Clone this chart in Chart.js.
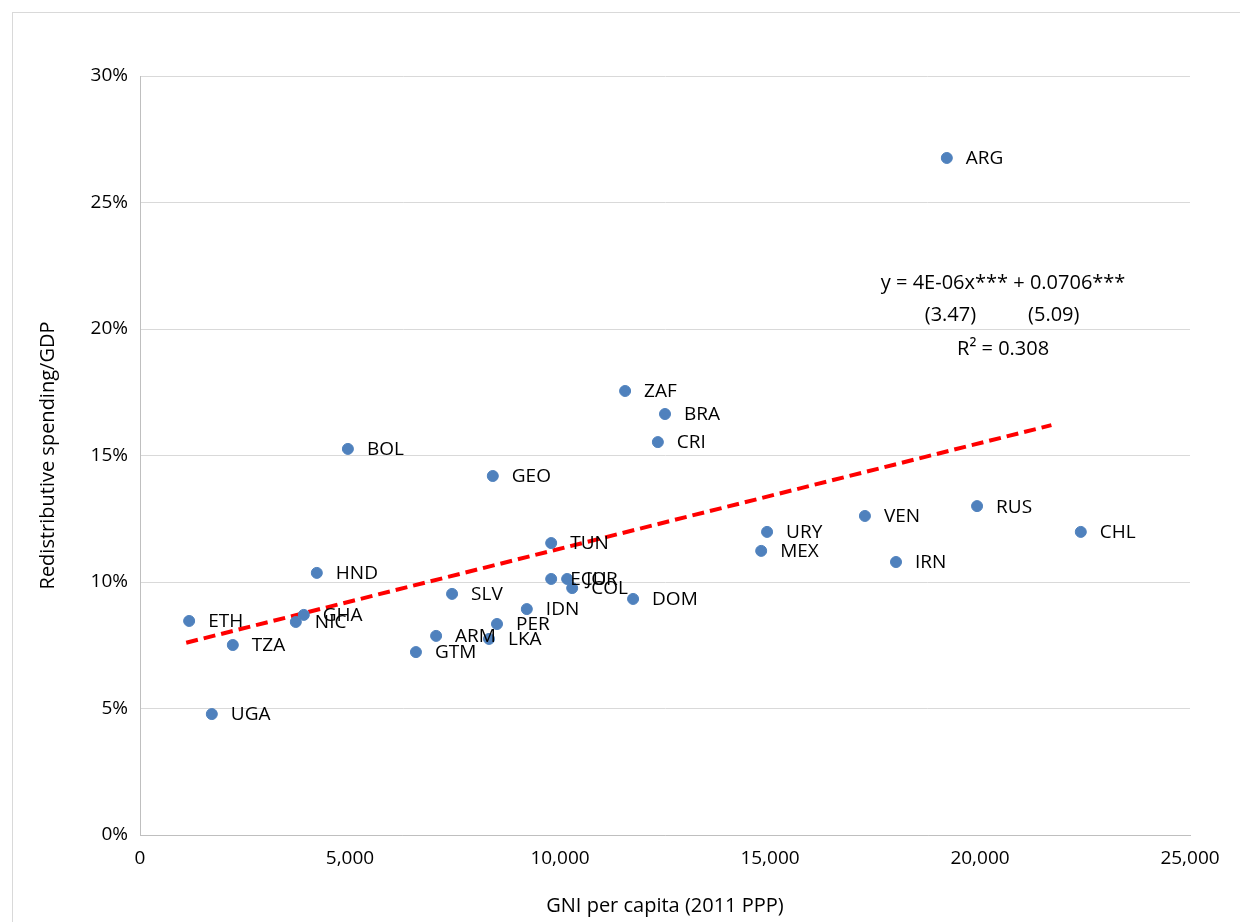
<!DOCTYPE html>
<html>
<head>
<meta charset="utf-8">
<script src="https://cdn.jsdelivr.net/npm/chart.js@4"></script>
<style>
  body { margin: 0; background: #fff; }
  #wrap { position: relative; width: 1240px; height: 922px; }
  #frame { position: absolute; left: 12px; top: 12px; right: -2px; bottom: -2px; border: 1px solid #d9d9d9; pointer-events: none; }
</style>
</head>
<body>
<div id="wrap">
  <canvas id="scatterChart" width="1240" height="922"></canvas>
  <div id="frame"></div>
</div>
<script>
// ===== DATA =====
const countries = ['ETH', 'TZA', 'UGA', 'NIC', 'GHA', 'HND', 'BOL', 'GTM', 'ARM', 'SLV', 'GEO', 'LKA', 'PER', 'IDN', 'TUN', 'ECU', 'JOR', 'COL', 'DOM', 'ZAF', 'BRA', 'CRI', 'MEX', 'URY', 'VEN', 'IRN', 'RUS', 'CHL', 'ARG'];
const gniPerCapita = [1170, 2210, 1710, 3710, 3900, 4210, 4950, 6570, 7050, 7430, 8400, 8310, 8500, 9210, 9790, 9790, 10170, 10290, 11740, 11550, 12500, 12330, 14790, 14930, 17260, 18000, 19930, 22400, 19210];
const spendingShare = [8.46, 7.51, 4.78, 8.42, 8.7, 10.36, 15.26, 7.23, 7.87, 9.53, 14.19, 7.75, 8.34, 8.93, 11.54, 10.12, 10.12, 9.76, 9.33, 17.55, 16.64, 15.53, 11.23, 11.98, 12.61, 10.79, 13.0, 11.98, 26.76];
const trendX = [1100, 21700];
const trendY = [7.6, 16.2];
const equationLines = ['y = 4E-06x*** + 0.0706***', '(3.47)          (5.09)', 'R² = 0.308'];

const FONT = "'Open Sans', 'Liberation Sans', sans-serif";

// ===== LABEL PLUGIN =====
const labelPlugin = {
    id: 'pointLabels',
    afterDatasetsDraw(chart) {
        const ctx = chart.ctx;
        const meta = chart.getDatasetMeta(0);
        ctx.save();
        ctx.font = '19px ' + FONT;
        ctx.fillStyle = '#000';
        ctx.textBaseline = 'middle';
        meta.data.forEach(function (pt, i) {
            ctx.fillText(countries[i], pt.x + 19, pt.y + 1);
        });
        // equation
        const xs = chart.scales.x, ys = chart.scales.y;
        const cx = xs.getPixelForValue(20550);
        ctx.textAlign = 'center';
        ctx.font = '20px ' + FONT;
        ctx.fillText(equationLines[0], cx, ys.getPixelForValue(21.8));
        ctx.fillText(equationLines[1], cx - 1, ys.getPixelForValue(20.55));
        ctx.fillText(equationLines[2], cx, ys.getPixelForValue(19.2));
        ctx.restore();
    }
};

new Chart(document.getElementById('scatterChart'), {
    type: 'scatter',
    data: {
        datasets: [{
            data: gniPerCapita.map((x, i) => ({ x: x, y: spendingShare[i] })),
            backgroundColor: '#4f81bd',
            borderColor: '#4f81bd',
            pointRadius: 5.5
        }, {
            type: 'line',
            data: trendX.map((x, i) => ({ x: x, y: trendY[i] })),
            borderColor: '#ff0000',
            borderWidth: 4,
            borderDash: [12, 6],
            pointRadius: 0,
            fill: false
        }]
    },
    options: {
        responsive: false,
        animation: false,
        layout: { padding: { top: 76, right: 50, left: 32, bottom: 0 } },
        plugins: { legend: { display: false }, tooltip: { enabled: false } },
        scales: {
            x: {
                type: 'linear',
                min: 0, max: 25000,
                afterFit: s => { s.height = 87; },
                grid: { display: false, drawTicks: false },
                border: { color: '#bfbfbf' },
                ticks: {
                    stepSize: 5000, padding: 12, color: '#000',
                    font: { family: FONT, size: 19 },
                    callback: v => v.toLocaleString('en-US')
                },
                title: { display: true, text: 'GNI per capita (2011 PPP)', color: '#000', font: { family: FONT, size: 20 }, padding: { top: 10 } }
            },
            y: {
                min: 0, max: 30,
                afterFit: s => { s.width = 108; },
                grid: { color: '#d9d9d9', drawTicks: false },
                border: { color: '#bfbfbf' },
                ticks: {
                    stepSize: 5, padding: 12, color: '#000',
                    font: { family: FONT, size: 19 },
                    callback: v => v + '%'
                },
                title: { display: true, text: 'Redistributive spending/GDP', color: '#000', font: { family: FONT, size: 20 }, padding: { bottom: 8 } }
            }
        }
    },
    plugins: [labelPlugin]
});
</script>
</body>
</html>
